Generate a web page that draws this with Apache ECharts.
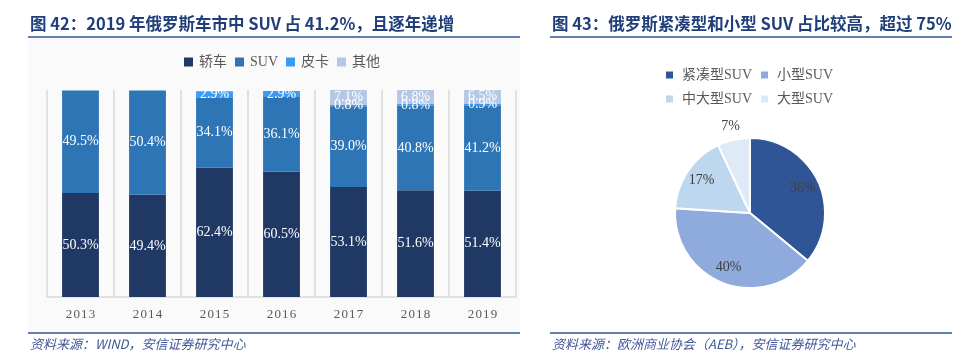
<!DOCTYPE html>
<html><head><meta charset="utf-8">
<script src="https://cdn.jsdelivr.net/npm/echarts@6/dist/echarts.min.js"></script>
<style>html,body{margin:0;padding:0;background:#fff}#c{width:958px;height:364px}</style>
</head><body><div id="c"></div>
<script>
const years = ['2013','2014','2015','2016','2017','2018','2019'];
const sedan = [50.3,49.4,62.4,60.5,53.1,51.6,51.4];
const suv = [49.5,50.4,34.1,36.1,39.0,40.8,41.2];
const pickup = [null,null,2.9,2.9,0.8,0.8,0.9];
const other = [null,null,null,null,7.1,6.8,6.5];
const barNames = ['轿车','SUV','皮卡','其他'];
const pieNames = ['紧凑型SUV','小型SUV','中大型SUV','大型SUV'];
const pieValues = [36,40,17,7];

const barColors = ['#1f3864','#2e75b6','#3a9bf5','#b4c7e7'];
const pieColors = ['#2f5597','#8faadc','#bdd7ee','#deebf7'];
const serif = '"Liberation Serif","Noto Sans CJK SC",serif';
const sans = '"Noto Sans CJK SC","Liberation Sans",sans-serif';

const chart = echarts.init(document.getElementById('c'), null, {renderer:'canvas'});
const barLabel = {show:true, position:'inside', color:'#fff', fontFamily:serif, fontSize:14,
  formatter: p => (p.value==null ? '' : Number(p.value).toFixed(1)+'%')};
const pieData = pieNames.map((n,i)=>({name:n, value:pieValues[i], itemStyle:{color:pieColors[i]}}));
const titleStyle = {fontFamily:sans, fontWeight:'bold', fontSize:16.5, color:'#1f3e7a'};
const srcStyle = {fontFamily:sans, fontStyle:'italic', fontWeight:'normal', fontSize:13, color:'#3f5796'};

chart.setOption({
  animation:false,
  title:[
    {text:'图 42：2019 年俄罗斯车市中 SUV 占 41.2%，且逐年递增', left:30, top:15, padding:0, textStyle:titleStyle},
    {text:'图 43：俄罗斯紧凑型和小型 SUV 占比较高，超过 75%', left:552, top:15, padding:0, textStyle:titleStyle},
    {text:'资料来源：WIND，安信证券研究中心', left:30, top:338, padding:0, textStyle:srcStyle},
    {text:'资料来源：欧洲商业协会（AEB），安信证券研究中心', left:552, top:338, padding:0, textStyle:srcStyle}
  ],
  graphic:[
    {type:'rect', shape:{x:28,y:38,width:492,height:294}, style:{fill:'#fafafa'}, z:-10, silent:true},
    {type:'line', shape:{x1:28,y1:37,x2:520,y2:37}, style:{stroke:'#2f5597',lineWidth:1.5}},
    {type:'line', shape:{x1:28,y1:333,x2:520,y2:333}, style:{stroke:'#2f5597',lineWidth:1.5}},
    {type:'line', shape:{x1:550,y1:37,x2:952,y2:37}, style:{stroke:'#2f5597',lineWidth:1.5}},
    {type:'line', shape:{x1:550,y1:333,x2:952,y2:333}, style:{stroke:'#2f5597',lineWidth:1.5}}
  ],
  legend:[
    {data:barNames, top:50, left:179, itemWidth:9, itemHeight:9, itemGap:8, icon:'rect',
     textStyle:{fontFamily:serif, fontSize:14, color:'#595959', padding:[0,0,0,1]}},
    {data:[{name:pieNames[0],itemStyle:{color:pieColors[0]}},{name:pieNames[1],itemStyle:{color:pieColors[1]}}],
     top:63, left:659, itemWidth:9, itemHeight:9, itemGap:7, icon:'rect',
     textStyle:{fontFamily:serif, fontSize:14, color:'#595959', padding:[0,0,0,3]}},
    {data:[{name:pieNames[2],itemStyle:{color:pieColors[2]}},{name:pieNames[3],itemStyle:{color:pieColors[3]}}],
     top:87, left:659, itemWidth:9, itemHeight:9, itemGap:7, icon:'rect',
     textStyle:{fontFamily:serif, fontSize:14, color:'#595959', padding:[0,0,0,3]}}
  ],
  grid:{left:47, top:90, width:469, height:207},
  xAxis:{type:'category', data:years, boundaryGap:true,
    axisLine:{lineStyle:{color:'#d9d9d9', width:1.5}}, axisTick:{show:false},
    splitLine:{show:true, lineStyle:{color:'#d9d9d9', width:1.5}},
    axisLabel:{fontFamily:serif, fontSize:13, color:'#595959', margin:11,
      formatter: v => v.split('').join('\u200a')}},
  yAxis:{type:'value', min:0, max:100, show:false, splitLine:{show:false}},
  series:[
    {name:barNames[0], type:'bar', stack:'a', data:sedan, barWidth:'55%', itemStyle:{color:barColors[0]}, label:barLabel},
    {name:barNames[1], type:'bar', stack:'a', data:suv, itemStyle:{color:barColors[1]}, label:barLabel},
    {name:barNames[2], type:'bar', stack:'a', data:pickup, itemStyle:{color:barColors[2]}, label:barLabel},
    {name:barNames[3], type:'bar', stack:'a', data:other, itemStyle:{color:barColors[3]}, label:barLabel},
    {type:'pie', center:[750,213], radius:[0,75], startAngle:90, clockwise:true,
     data:pieData, itemStyle:{borderColor:'#fff', borderWidth:2}, label:{show:false}, labelLine:{show:false},
     emphasis:{disabled:true}},
    {type:'pie', center:[750,213], radius:[36,75], startAngle:90, clockwise:true, silent:true,
     data:pieData.map((d,i)=>({name:d.name, value:d.value, label:{show:i<3}})),
     itemStyle:{color:'rgba(0,0,0,0)', borderWidth:0},
     label:{position:'inside', fontFamily:serif, fontSize:14, color:'#404040', formatter:'{c}%'},
     labelLine:{show:false}, emphasis:{disabled:true}},
    {type:'pie', center:[750,213], radius:[76,96], startAngle:90, clockwise:true, silent:true,
     data:pieData.map((d,i)=>({name:d.name, value:d.value, label:{show:i===3}})),
     itemStyle:{color:'rgba(0,0,0,0)', borderWidth:0},
     label:{position:'inside', fontFamily:serif, fontSize:14, color:'#404040', formatter:'{c}%'},
     labelLine:{show:false}, emphasis:{disabled:true}}
  ]
});
</script></body></html>
